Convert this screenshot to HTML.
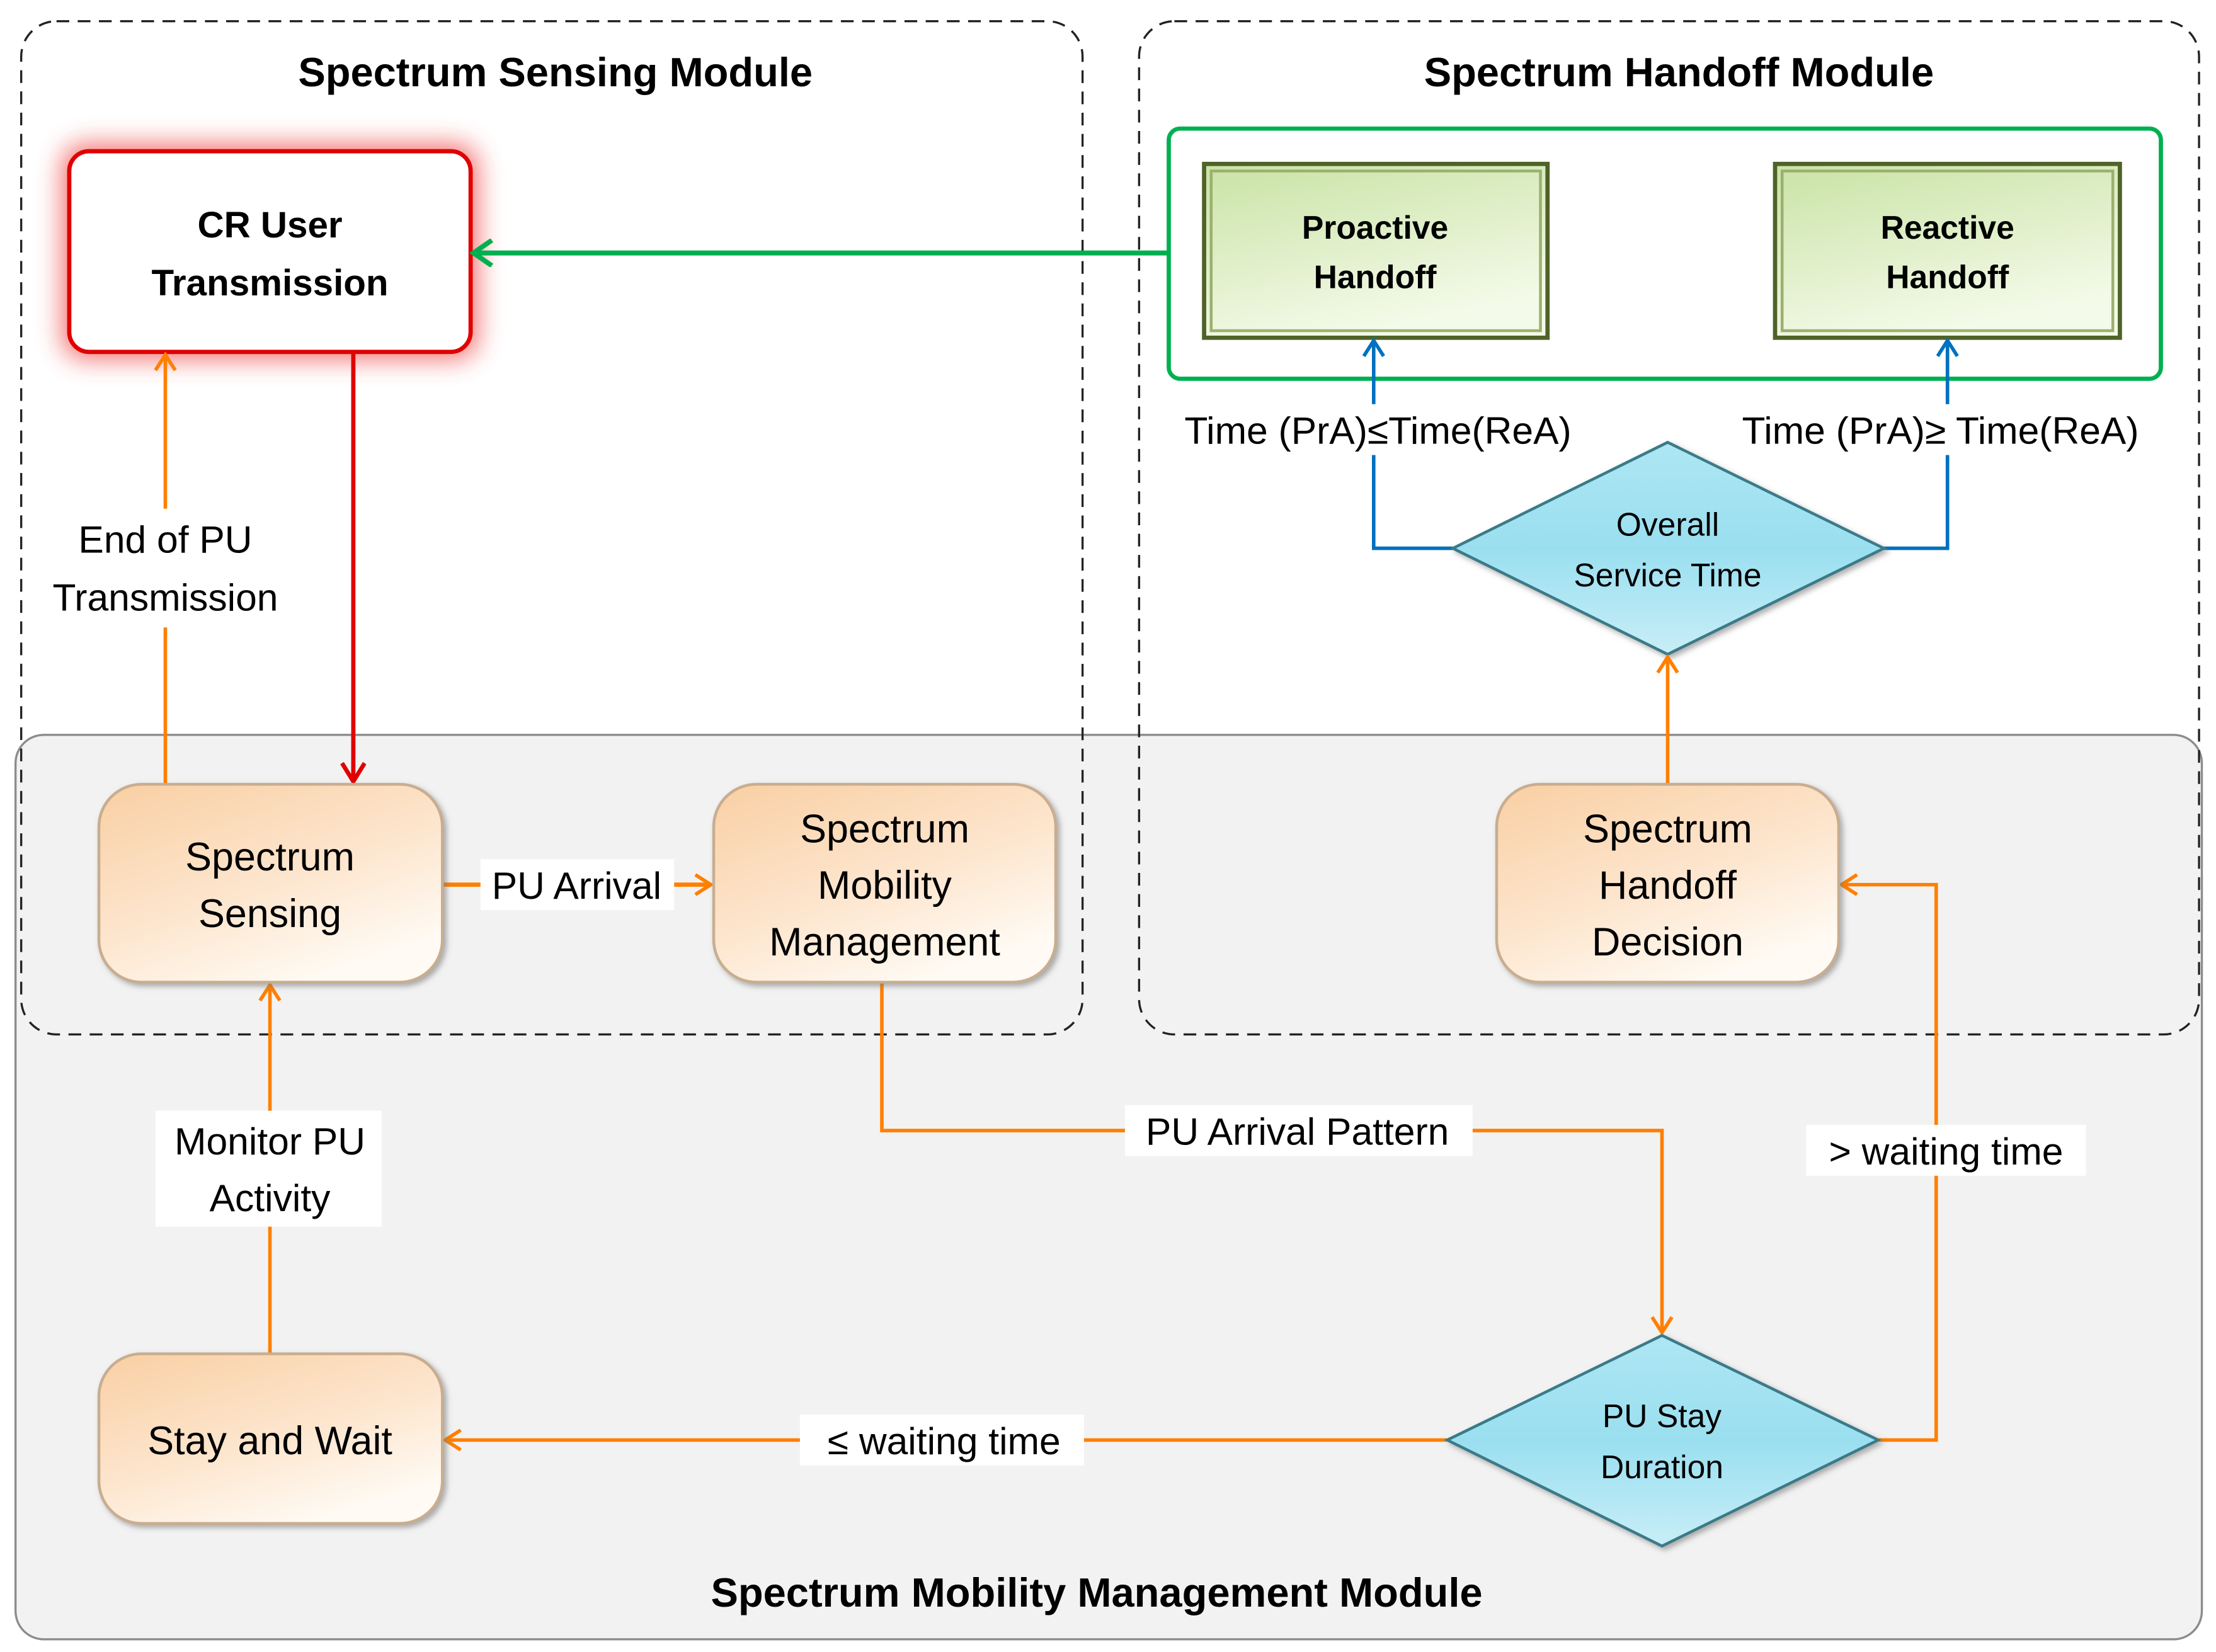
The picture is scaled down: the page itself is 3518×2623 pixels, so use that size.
<!DOCTYPE html>
<html><head><meta charset="utf-8"><style>
html,body{margin:0;padding:0;background:#fff;}
svg{display:block;}
text{font-family:"Liberation Sans",sans-serif;fill:#000;}
</style></head><body>
<svg width="3518" height="2623" viewBox="0 0 1568 1169" preserveAspectRatio="none" xmlns="http://www.w3.org/2000/svg">
<defs>
<linearGradient id="peach" x1="0" y1="0" x2="0.6" y2="1">
<stop offset="0" stop-color="#f9cfa3"/><stop offset="0.6" stop-color="#fde6cf"/><stop offset="1" stop-color="#fffaf3"/>
</linearGradient>
<linearGradient id="grn" x1="0" y1="0" x2="0.4" y2="1">
<stop offset="0" stop-color="#c9e3a5"/><stop offset="1" stop-color="#f4fae9"/>
</linearGradient>
<linearGradient id="cyan" x1="0" y1="0" x2="0" y2="1">
<stop offset="0" stop-color="#aee6f3"/><stop offset="0.5" stop-color="#9adff0"/><stop offset="1" stop-color="#c8eef7"/>
</linearGradient>
<filter id="glow" x="-30%" y="-50%" width="160%" height="200%"><feGaussianBlur stdDeviation="9"/></filter>
<filter id="sh" x="-10%" y="-10%" width="130%" height="130%"><feDropShadow dx="2" dy="2" stdDeviation="2" flood-color="#777" flood-opacity="0.6"/></filter>
<marker id="ao" markerWidth="14" markerHeight="16" refX="12" refY="8" orient="auto" markerUnits="userSpaceOnUse"><path d="M1,1 L12,8 L1,15" fill="none" stroke="#ff7f00" stroke-width="2.5"/></marker>
<marker id="ar" markerWidth="16" markerHeight="18" refX="14" refY="9" orient="auto" markerUnits="userSpaceOnUse"><path d="M1,1 L14,9 L1,17" fill="none" stroke="#e00000" stroke-width="3"/></marker>
<marker id="ag" markerWidth="18" markerHeight="20" refX="15" refY="10" orient="auto" markerUnits="userSpaceOnUse"><path d="M2,1 L15,10 L2,19" fill="none" stroke="#00b050" stroke-width="3.5"/></marker>
<marker id="ab" markerWidth="14" markerHeight="16" refX="12" refY="8" orient="auto" markerUnits="userSpaceOnUse"><path d="M1,1 L12,8 L1,15" fill="none" stroke="#0070c0" stroke-width="2.5"/></marker>
</defs>

<rect x="11" y="520" width="1547" height="640" rx="20" fill="#f2f2f2" stroke="#8c8c8c" stroke-width="1.5"/>
<rect x="15" y="15" width="751" height="717" rx="25" fill="none" stroke="#222" stroke-width="1.5" stroke-dasharray="9,6"/>
<rect x="806" y="15" width="750" height="717" rx="25" fill="none" stroke="#222" stroke-width="1.5" stroke-dasharray="9,6"/>

<text x="393" y="61" font-size="29" font-weight="bold" text-anchor="middle">Spectrum Sensing Module</text>
<text x="1188" y="61" font-size="29" font-weight="bold" text-anchor="middle">Spectrum Handoff Module</text>
<text x="776" y="1137" font-size="29" font-weight="bold" text-anchor="middle">Spectrum Mobility Management Module</text>

<rect x="44" y="102" width="294" height="152" rx="16" fill="#f04040" opacity="0.75" filter="url(#glow)"/>
<rect x="49" y="107" width="284" height="142" rx="14" fill="#fff" stroke="#e00000" stroke-width="3"/>
<text x="191" y="168" font-size="26" font-weight="bold" text-anchor="middle">CR User</text>
<text x="191" y="209" font-size="26" font-weight="bold" text-anchor="middle">Transmission</text>

<line x1="828" y1="179" x2="335" y2="179" stroke="#00b050" stroke-width="3.5" marker-end="url(#ag)"/>
<rect x="827" y="91" width="702" height="177" rx="8" fill="#fff" stroke="#00b050" stroke-width="3"/>
<rect x="852" y="116" width="243" height="123" fill="url(#grn)" stroke="#4f6228" stroke-width="3"/>
<rect x="857" y="121" width="233" height="113" fill="none" stroke="#9bb06e" stroke-width="2"/>
<text x="973" y="169" font-size="23" font-weight="bold" text-anchor="middle">Proactive</text>
<text x="973" y="204" font-size="23" font-weight="bold" text-anchor="middle">Handoff</text>
<rect x="1256" y="116" width="244" height="123" fill="url(#grn)" stroke="#4f6228" stroke-width="3"/>
<rect x="1261" y="121" width="234" height="113" fill="none" stroke="#9bb06e" stroke-width="2"/>
<text x="1378" y="169" font-size="23" font-weight="bold" text-anchor="middle">Reactive</text>
<text x="1378" y="204" font-size="23" font-weight="bold" text-anchor="middle">Handoff</text>

<polyline points="1028,388 972,388 972,241" fill="none" stroke="#0070c0" stroke-width="2.5" marker-end="url(#ab)"/>
<polyline points="1333,388 1378,388 1378,241" fill="none" stroke="#0070c0" stroke-width="2.5" marker-end="url(#ab)"/>
<rect x="822" y="286" width="305" height="36" fill="#fff"/>
<text x="975" y="314" font-size="27" text-anchor="middle">Time (PrA)≤Time(ReA)</text>
<rect x="1218" y="286" width="312" height="36" fill="#fff"/>
<text x="1373" y="314" font-size="27" text-anchor="middle">Time (PrA)≥ Time(ReA)</text>

<polygon points="1180,313 1333,388 1180,463 1028,388" fill="url(#cyan)" stroke="#3a7a88" stroke-width="2" filter="url(#sh)"/>
<text x="1180" y="379" font-size="23" text-anchor="middle">Overall</text>
<text x="1180" y="415" font-size="23" text-anchor="middle">Service Time</text>

<line x1="117" y1="555" x2="117" y2="251" stroke="#ff7f00" stroke-width="2.5" marker-end="url(#ao)"/>
<rect x="25" y="360" width="185" height="84" fill="#fff"/>
<text x="117" y="391" font-size="27" text-anchor="middle">End of PU</text>
<text x="117" y="432" font-size="27" text-anchor="middle">Transmission</text>
<line x1="250" y1="249" x2="250" y2="553" stroke="#e00000" stroke-width="3" marker-end="url(#ar)"/>

<line x1="313" y1="626" x2="503" y2="626" stroke="#ff7f00" stroke-width="3" marker-end="url(#ao)"/>
<rect x="340" y="608" width="137" height="36" fill="#fff"/>
<text x="408" y="636" font-size="27" text-anchor="middle">PU Arrival</text>

<polyline points="624,695 624,800 1176,800 1176,943" fill="none" stroke="#ff7f00" stroke-width="2.5" marker-end="url(#ao)"/>
<rect x="796" y="782" width="246" height="36" fill="#fff"/>
<text x="918" y="810" font-size="27" text-anchor="middle">PU Arrival Pattern</text>

<line x1="1180" y1="555" x2="1180" y2="465" stroke="#ff7f00" stroke-width="2.5" marker-end="url(#ao)"/>

<polyline points="1329,1019 1370,1019 1370,626 1303,626" fill="none" stroke="#ff7f00" stroke-width="2.5" marker-end="url(#ao)"/>
<rect x="1278" y="796" width="198" height="36" fill="#fff"/>
<text x="1377" y="824" font-size="27" text-anchor="middle">&gt; waiting time</text>

<line x1="1024" y1="1019" x2="315" y2="1019" stroke="#ff7f00" stroke-width="2.5" marker-end="url(#ao)"/>
<rect x="566" y="1001" width="201" height="36" fill="#fff"/>
<text x="668" y="1029" font-size="27" text-anchor="middle">≤ waiting time</text>

<line x1="191" y1="958" x2="191" y2="697" stroke="#ff7f00" stroke-width="2.5" marker-end="url(#ao)"/>
<rect x="110" y="786" width="160" height="82" fill="#fff"/>
<text x="191" y="817" font-size="27" text-anchor="middle">Monitor PU</text>
<text x="191" y="857" font-size="27" text-anchor="middle">Activity</text>

<g filter="url(#sh)">
<rect x="70" y="555" width="243" height="140" rx="30" fill="url(#peach)" stroke="#c8ad90" stroke-width="2"/>
<rect x="505" y="555" width="242" height="140" rx="30" fill="url(#peach)" stroke="#c8ad90" stroke-width="2"/>
<rect x="1059" y="555" width="242" height="140" rx="30" fill="url(#peach)" stroke="#c8ad90" stroke-width="2"/>
<rect x="70" y="958" width="243" height="120" rx="30" fill="url(#peach)" stroke="#c8ad90" stroke-width="2"/>
</g>
<text x="191" y="616" font-size="28" text-anchor="middle">Spectrum</text>
<text x="191" y="656" font-size="28" text-anchor="middle">Sensing</text>
<text x="626" y="596" font-size="28" text-anchor="middle">Spectrum</text>
<text x="626" y="636" font-size="28" text-anchor="middle">Mobility</text>
<text x="626" y="676" font-size="28" text-anchor="middle">Management</text>
<text x="1180" y="596" font-size="28" text-anchor="middle">Spectrum</text>
<text x="1180" y="636" font-size="28" text-anchor="middle">Handoff</text>
<text x="1180" y="676" font-size="28" text-anchor="middle">Decision</text>
<text x="191" y="1029" font-size="28" text-anchor="middle">Stay and Wait</text>

<polygon points="1176,945 1329,1019 1176,1094 1024,1019" fill="url(#cyan)" stroke="#3a7a88" stroke-width="2" filter="url(#sh)"/>
<text x="1176" y="1010" font-size="23" text-anchor="middle">PU Stay</text>
<text x="1176" y="1046" font-size="23" text-anchor="middle">Duration</text>
</svg>
</body></html>
